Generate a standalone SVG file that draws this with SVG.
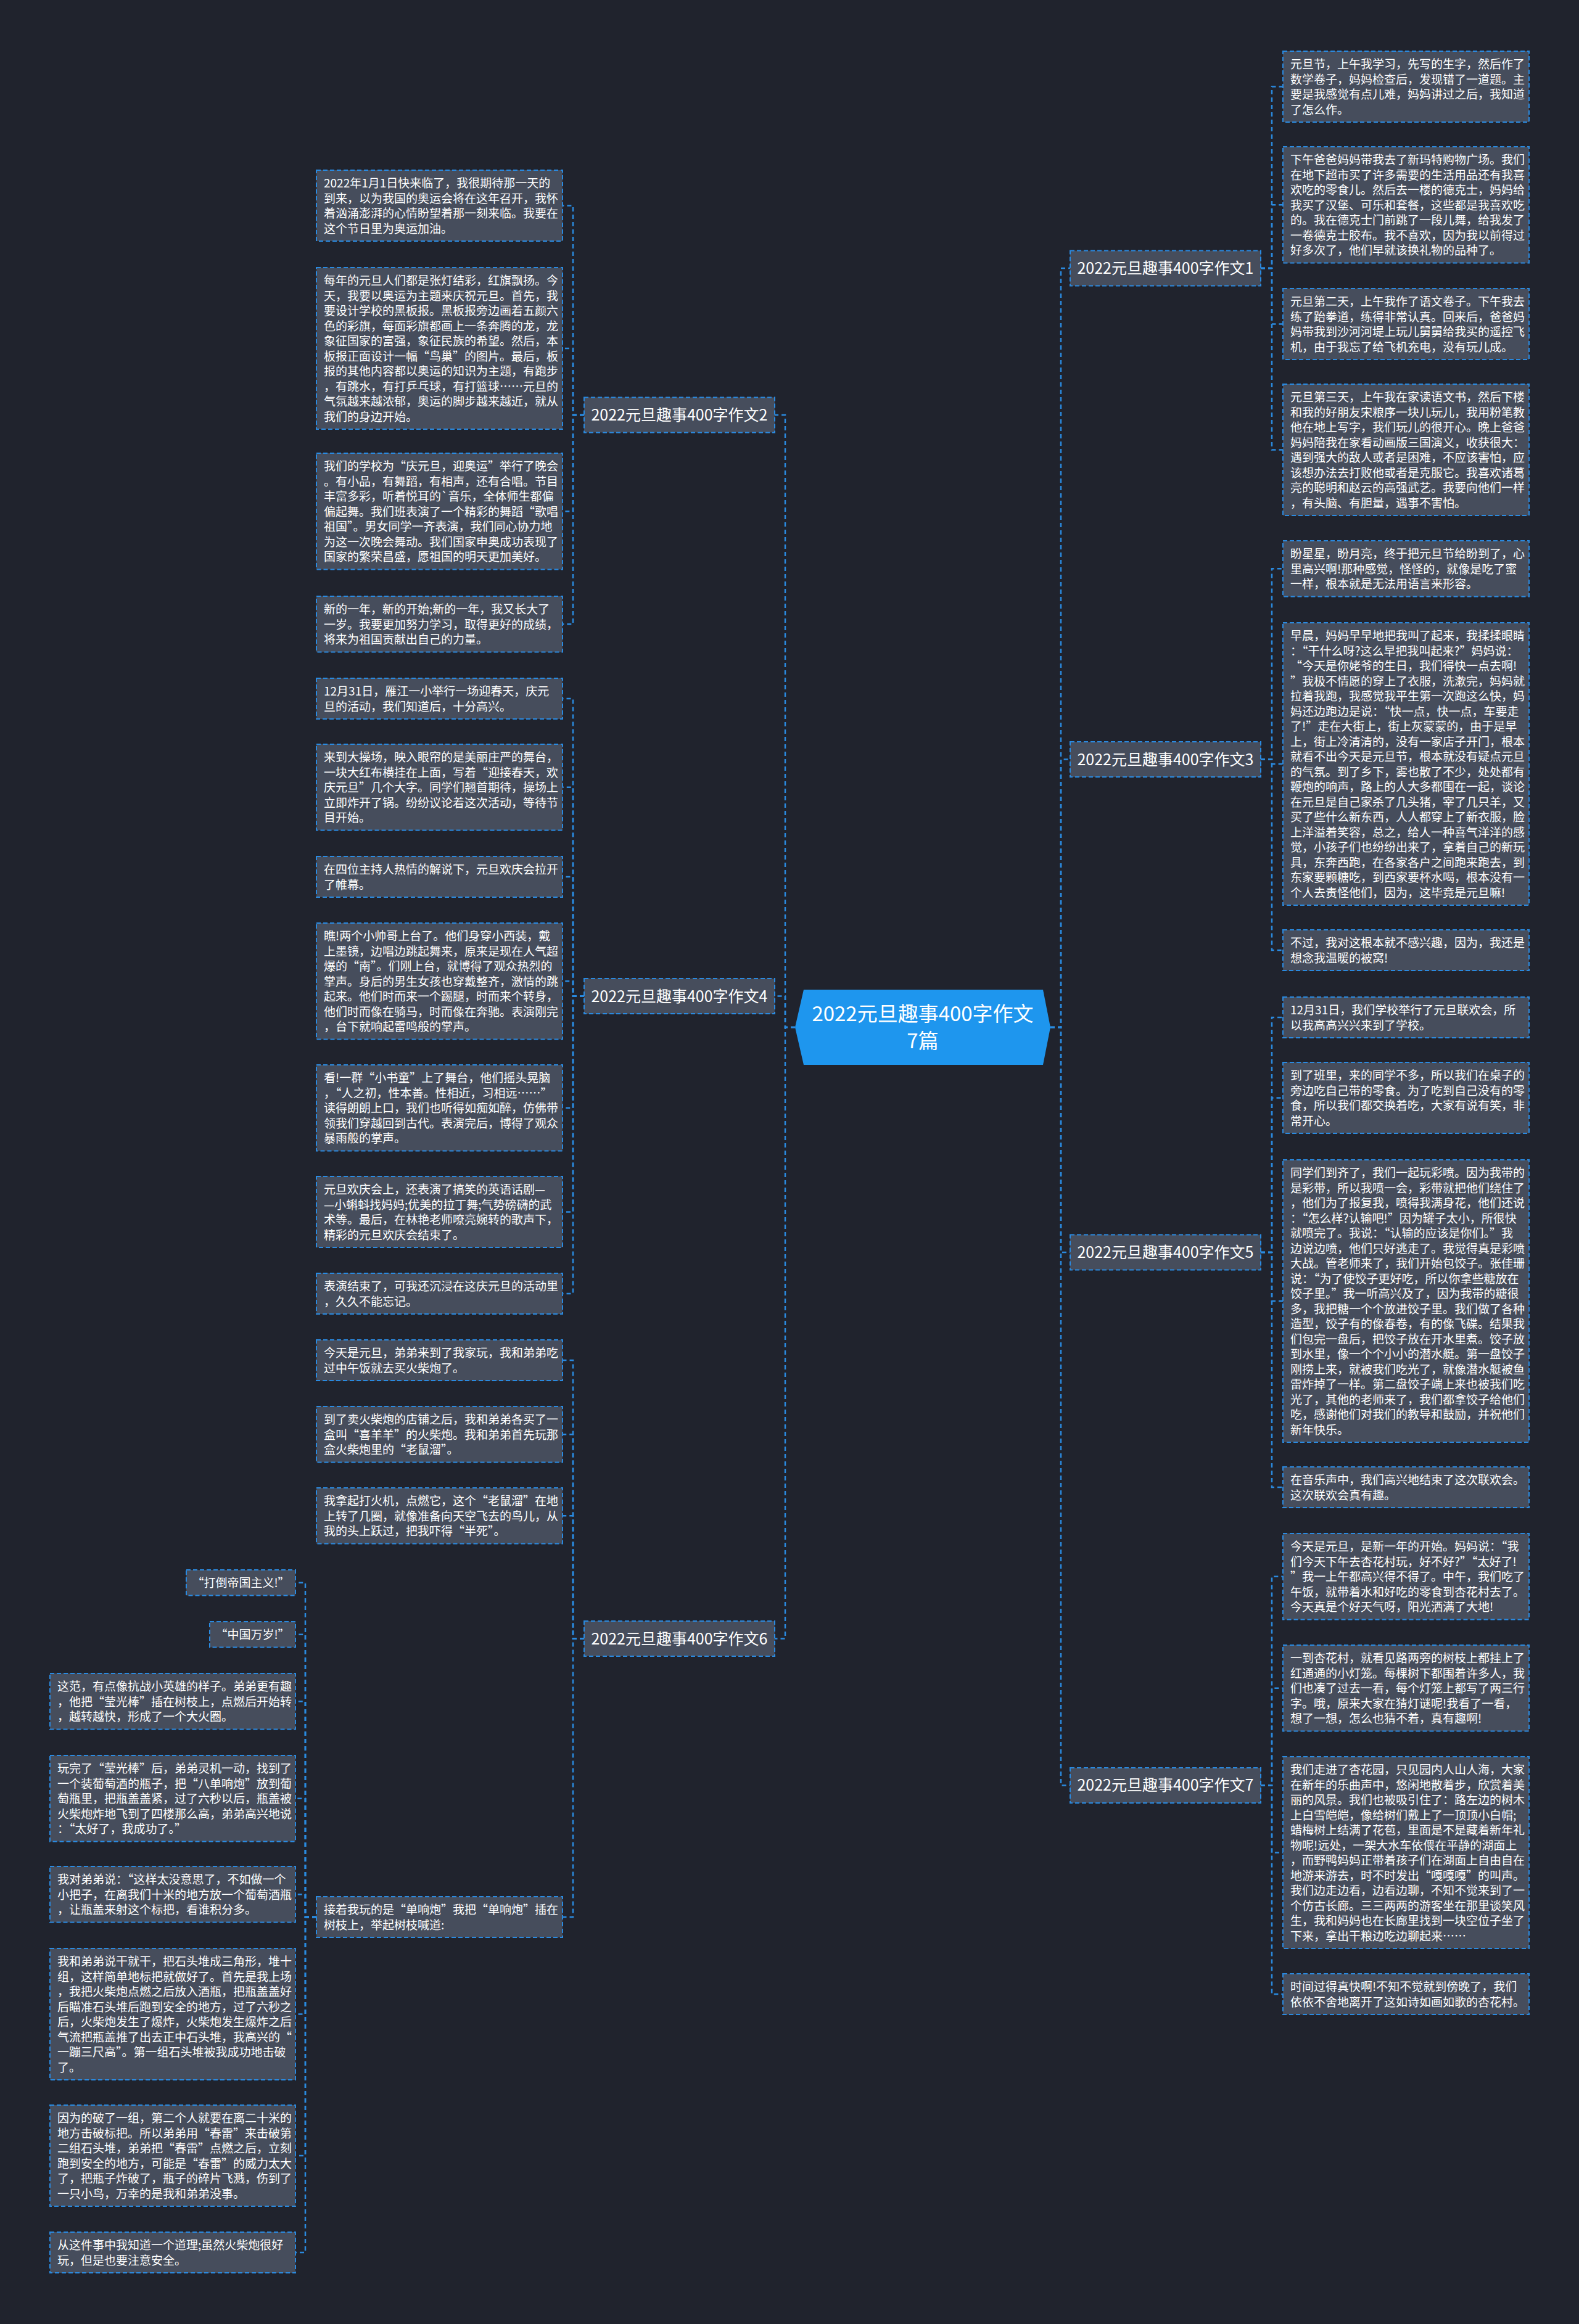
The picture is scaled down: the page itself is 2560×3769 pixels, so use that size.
<svg xmlns="http://www.w3.org/2000/svg" width="2560" height="3769" viewBox="0 0 2560 3769">
<style>
.n{fill:#464d5c;stroke:#2a8ae0;stroke-width:2;stroke-dasharray:7 4}
.t{font-family:"Noto Sans CJK SC","Noto Sans",sans-serif;font-size:19px;fill:#ffffff}
.bt{font-family:"Noto Sans CJK SC","Noto Sans",sans-serif;font-size:25px;fill:#ffffff;text-anchor:middle}
.ct{font-family:"Noto Sans CJK SC","Noto Sans",sans-serif;font-size:33px;fill:#ffffff;text-anchor:middle}
.c{fill:none;stroke:#2a8ae0;stroke-width:2.5;stroke-dasharray:7 5}
</style>
<rect x="0" y="0" width="2560" height="3769" fill="#20232d"/>
<g id="connectors">
<path class="c" d="M1289,1666 H1273 V672.9 H1256"/>
<path class="c" d="M1289,1666 H1273 V1615.5 H1256"/>
<path class="c" d="M1289,1666 H1273 V2657.5 H1256"/>
<path class="c" d="M1703,1666 H1720 V435 H1735"/>
<path class="c" d="M1703,1666 H1720 V1231.6 H1735"/>
<path class="c" d="M1703,1666 H1720 V2031 H1735"/>
<path class="c" d="M1703,1666 H1720 V2895.4 H1735"/>
<path class="c" d="M2044,435 H2062 V140.5 H2080"/>
<path class="c" d="M2044,435 H2062 V332.25 H2080"/>
<path class="c" d="M2044,435 H2062 V525.5 H2080"/>
<path class="c" d="M2044,435 H2062 V729.5 H2080"/>
<path class="c" d="M2044,1231.6 H2062 V922.25 H2080"/>
<path class="c" d="M2044,1231.6 H2062 V1239 H2080"/>
<path class="c" d="M2044,1231.6 H2062 V1541 H2080"/>
<path class="c" d="M2044,2031 H2062 V1650 H2080"/>
<path class="c" d="M2044,2031 H2062 V1780.5 H2080"/>
<path class="c" d="M2044,2031 H2062 V2110 H2080"/>
<path class="c" d="M2044,2031 H2062 V2412 H2080"/>
<path class="c" d="M2044,2895.4 H2062 V2556.75 H2080"/>
<path class="c" d="M2044,2895.4 H2062 V2737.75 H2080"/>
<path class="c" d="M2044,2895.4 H2062 V3004.5 H2080"/>
<path class="c" d="M2044,2895.4 H2062 V3234 H2080"/>
<path class="c" d="M947,672.9 H929 V333.5 H912"/>
<path class="c" d="M947,672.9 H929 V565 H912"/>
<path class="c" d="M947,672.9 H929 V829.25 H912"/>
<path class="c" d="M947,672.9 H929 V1012.25 H912"/>
<path class="c" d="M947,1615.5 H929 V1133 H912"/>
<path class="c" d="M947,1615.5 H929 V1276.75 H912"/>
<path class="c" d="M947,1615.5 H929 V1422 H912"/>
<path class="c" d="M947,1615.5 H929 V1591.25 H912"/>
<path class="c" d="M947,1615.5 H929 V1796.75 H912"/>
<path class="c" d="M947,1615.5 H929 V1965.5 H912"/>
<path class="c" d="M947,1615.5 H929 V2098 H912"/>
<path class="c" d="M947,2657.5 H929 V2206 H912"/>
<path class="c" d="M947,2657.5 H929 V2326.25 H912"/>
<path class="c" d="M947,2657.5 H929 V2458.25 H912"/>
<path class="c" d="M947,2657.5 H929 V3109 H912"/>
<path class="c" d="M513,3109 H495 V2566.75 H479"/>
<path class="c" d="M513,3109 H495 V2650.75 H479"/>
<path class="c" d="M513,3109 H495 V2759.25 H479"/>
<path class="c" d="M513,3109 H495 V2916.75 H479"/>
<path class="c" d="M513,3109 H495 V3072.25 H479"/>
<path class="c" d="M513,3109 H495 V3266.5 H479"/>
<path class="c" d="M513,3109 H495 V3496 H479"/>
<path class="c" d="M513,3109 H495 V3653 H479"/>
</g>

<g id="center">
<polygon points="1289,1666 1303,1605 1691,1605 1703,1666 1691,1727 1303,1727" fill="#1e96ee"/>
<text class="ct" x="1496" y="1656">2022元旦趣事400字作文</text>
<text class="ct" x="1496" y="1700">7篇</text>
</g>

<g id="b1"><rect class="n" x="1735" y="406.5" width="309" height="57"/><text class="bt" x="1889.5" y="444">2022元旦趣事400字作文1</text></g>
<g id="b3"><rect class="n" x="1735" y="1203.1" width="309" height="57"/><text class="bt" x="1889.5" y="1240.6">2022元旦趣事400字作文3</text></g>
<g id="b5"><rect class="n" x="1735" y="2002.5" width="309" height="57"/><text class="bt" x="1889.5" y="2040">2022元旦趣事400字作文5</text></g>
<g id="b7"><rect class="n" x="1735" y="2866.9" width="309" height="57"/><text class="bt" x="1889.5" y="2904.4">2022元旦趣事400字作文7</text></g>
<g id="b2"><rect class="n" x="947" y="644.4" width="309" height="57"/><text class="bt" x="1101.5" y="681.9">2022元旦趣事400字作文2</text></g>
<g id="b4"><rect class="n" x="947" y="1587" width="309" height="57"/><text class="bt" x="1101.5" y="1624.5">2022元旦趣事400字作文4</text></g>
<g id="b6"><rect class="n" x="947" y="2629" width="309" height="57"/><text class="bt" x="1101.5" y="2666.5">2022元旦趣事400字作文6</text></g>

<g id="r1a"><rect class="n" x="2080" y="83" width="399" height="115"/><text class="t" x="2092" y="111"><tspan x="2092">元旦节，上午我学习，先写的生字，然后作了</tspan><tspan x="2092" dy="24.5">数学卷子，妈妈检查后，发现错了一道题。主</tspan><tspan x="2092" dy="24.5">要是我感觉有点儿难，妈妈讲过之后，我知道</tspan><tspan x="2092" dy="24.5">了怎么作。</tspan></text></g>
<g id="r1b"><rect class="n" x="2080" y="238" width="399" height="188.5"/><text class="t" x="2092" y="266"><tspan x="2092">下午爸爸妈妈带我去了新玛特购物广场。我们</tspan><tspan x="2092" dy="24.5">在地下超市买了许多需要的生活用品还有我喜</tspan><tspan x="2092" dy="24.5">欢吃的零食儿。然后去一楼的德克士，妈妈给</tspan><tspan x="2092" dy="24.5">我买了汉堡、可乐和套餐，这些都是我喜欢吃</tspan><tspan x="2092" dy="24.5">的。我在德克士门前跳了一段儿舞，给我发了</tspan><tspan x="2092" dy="24.5">一卷德克士胶布。我不喜欢，因为我以前得过</tspan><tspan x="2092" dy="24.5">好多次了，他们早就该换礼物的品种了。</tspan></text></g>
<g id="r1c"><rect class="n" x="2080" y="468" width="399" height="115"/><text class="t" x="2092" y="496"><tspan x="2092">元旦第二天，上午我作了语文卷子。下午我去</tspan><tspan x="2092" dy="24.5">练了跆拳道，练得非常认真。回来后，爸爸妈</tspan><tspan x="2092" dy="24.5">妈带我到沙河河堤上玩儿舅舅给我买的遥控飞</tspan><tspan x="2092" dy="24.5">机，由于我忘了给飞机充电，没有玩儿成。</tspan></text></g>
<g id="r1d"><rect class="n" x="2080" y="623" width="399" height="213"/><text class="t" x="2092" y="651"><tspan x="2092">元旦第三天，上午我在家读语文书，然后下楼</tspan><tspan x="2092" dy="24.5">和我的好朋友宋粮序一块儿玩儿，我用粉笔教</tspan><tspan x="2092" dy="24.5">他在地上写字，我们玩儿的很开心。晚上爸爸</tspan><tspan x="2092" dy="24.5">妈妈陪我在家看动画版三国演义，收获很大：</tspan><tspan x="2092" dy="24.5">遇到强大的敌人或者是困难，不应该害怕，应</tspan><tspan x="2092" dy="24.5">该想办法去打败他或者是克服它。我喜欢诸葛</tspan><tspan x="2092" dy="24.5">亮的聪明和赵云的高强武艺。我要向他们一样</tspan><tspan x="2092" dy="24.5">，有头脑、有胆量，遇事不害怕。</tspan></text></g>

<g id="r3a"><rect class="n" x="2080" y="877" width="399" height="90.5"/><text class="t" x="2092" y="905"><tspan x="2092">盼星星，盼月亮，终于把元旦节给盼到了，心</tspan><tspan x="2092" dy="24.5">里高兴啊!那种感觉，怪怪的，就像是吃了蜜</tspan><tspan x="2092" dy="24.5">一样，根本就是无法用语言来形容。</tspan></text></g>
<g id="r3b"><rect class="n" x="2080" y="1010" width="399" height="458"/><text class="t" x="2092" y="1038"><tspan x="2092">早晨，妈妈早早地把我叫了起来，我揉揉眼睛</tspan><tspan x="2092" dy="24.5">：“干什么呀?这么早把我叫起来?”妈妈说：</tspan><tspan x="2092" dy="24.5">“今天是你姥爷的生日，我们得快一点去啊!</tspan><tspan x="2092" dy="24.5">”我极不情愿的穿上了衣服，洗漱完，妈妈就</tspan><tspan x="2092" dy="24.5">拉着我跑，我感觉我平生第一次跑这么快，妈</tspan><tspan x="2092" dy="24.5">妈还边跑边是说：“快一点，快一点，车要走</tspan><tspan x="2092" dy="24.5">了!”走在大街上，街上灰蒙蒙的，由于是早</tspan><tspan x="2092" dy="24.5">上，街上冷清清的，没有一家店子开门，根本</tspan><tspan x="2092" dy="24.5">就看不出今天是元旦节，根本就没有疑点元旦</tspan><tspan x="2092" dy="24.5">的气氛。到了乡下，雾也散了不少，处处都有</tspan><tspan x="2092" dy="24.5">鞭炮的响声，路上的人大多都围在一起，谈论</tspan><tspan x="2092" dy="24.5">在元旦是自己家杀了几头猪，宰了几只羊，又</tspan><tspan x="2092" dy="24.5">买了些什么新东西，人人都穿上了新衣服，脸</tspan><tspan x="2092" dy="24.5">上洋溢着笑容，总之，给人一种喜气洋洋的感</tspan><tspan x="2092" dy="24.5">觉，小孩子们也纷纷出来了，拿着自己的新玩</tspan><tspan x="2092" dy="24.5">具，东奔西跑，在各家各户之间跑来跑去，到</tspan><tspan x="2092" dy="24.5">东家要颗糖吃，到西家要杯水喝，根本没有一</tspan><tspan x="2092" dy="24.5">个人去责怪他们，因为，这毕竟是元旦嘛!</tspan></text></g>
<g id="r3c"><rect class="n" x="2080" y="1508" width="399" height="66"/><text class="t" x="2092" y="1536"><tspan x="2092">不过，我对这根本就不感兴趣，因为，我还是</tspan><tspan x="2092" dy="24.5">想念我温暖的被窝!</tspan></text></g>

<g id="r5a"><rect class="n" x="2080" y="1617" width="399" height="66"/><text class="t" x="2092" y="1645"><tspan x="2092">12月31日，我们学校举行了元旦联欢会，所</tspan><tspan x="2092" dy="24.5">以我高高兴兴来到了学校。</tspan></text></g>
<g id="r5b"><rect class="n" x="2080" y="1723" width="399" height="115"/><text class="t" x="2092" y="1751"><tspan x="2092">到了班里，来的同学不多，所以我们在桌子的</tspan><tspan x="2092" dy="24.5">旁边吃自己带的零食。为了吃到自己没有的零</tspan><tspan x="2092" dy="24.5">食，所以我们都交换着吃，大家有说有笑，非</tspan><tspan x="2092" dy="24.5">常开心。</tspan></text></g>
<g id="r5c"><rect class="n" x="2080" y="1881" width="399" height="458"/><text class="t" x="2092" y="1909"><tspan x="2092">同学们到齐了，我们一起玩彩喷。因为我带的</tspan><tspan x="2092" dy="24.5">是彩带，所以我喷一会，彩带就把他们绕住了</tspan><tspan x="2092" dy="24.5">，他们为了报复我，喷得我满身花，他们还说</tspan><tspan x="2092" dy="24.5">：“怎么样?认输吧!”因为罐子太小，所很快</tspan><tspan x="2092" dy="24.5">就喷完了。我说：“认输的应该是你们。”我</tspan><tspan x="2092" dy="24.5">边说边喷，他们只好逃走了。我觉得真是彩喷</tspan><tspan x="2092" dy="24.5">大战。管老师来了，我们开始包饺子。张佳珊</tspan><tspan x="2092" dy="24.5">说：“为了使饺子更好吃，所以你拿些糖放在</tspan><tspan x="2092" dy="24.5">饺子里。”我一听高兴及了，因为我带的糖很</tspan><tspan x="2092" dy="24.5">多，我把糖一个个放进饺子里。我们做了各种</tspan><tspan x="2092" dy="24.5">造型，饺子有的像春卷，有的像飞碟。结果我</tspan><tspan x="2092" dy="24.5">们包完一盘后，把饺子放在开水里煮。饺子放</tspan><tspan x="2092" dy="24.5">到水里，像一个个小小的潜水艇。第一盘饺子</tspan><tspan x="2092" dy="24.5">刚捞上来，就被我们吃光了，就像潜水艇被鱼</tspan><tspan x="2092" dy="24.5">雷炸掉了一样。第二盘饺子端上来也被我们吃</tspan><tspan x="2092" dy="24.5">光了，其他的老师来了，我们都拿饺子给他们</tspan><tspan x="2092" dy="24.5">吃，感谢他们对我们的教导和鼓励，并祝他们</tspan><tspan x="2092" dy="24.5">新年快乐。</tspan></text></g>
<g id="r5d"><rect class="n" x="2080" y="2379" width="399" height="66"/><text class="t" x="2092" y="2407"><tspan x="2092">在音乐声中，我们高兴地结束了这次联欢会。</tspan><tspan x="2092" dy="24.5">这次联欢会真有趣。</tspan></text></g>

<g id="r7a"><rect class="n" x="2080" y="2487" width="399" height="139.5"/><text class="t" x="2092" y="2515"><tspan x="2092">今天是元旦，是新一年的开始。妈妈说：“我</tspan><tspan x="2092" dy="24.5">们今天下午去杏花村玩，好不好?”“太好了!</tspan><tspan x="2092" dy="24.5">”我一上午都高兴得不得了。中午，我们吃了</tspan><tspan x="2092" dy="24.5">午饭，就带着水和好吃的零食到杏花村去了。</tspan><tspan x="2092" dy="24.5">今天真是个好天气呀，阳光洒满了大地!</tspan></text></g>
<g id="r7b"><rect class="n" x="2080" y="2668" width="399" height="139.5"/><text class="t" x="2092" y="2696"><tspan x="2092">一到杏花村，就看见路两旁的树枝上都挂上了</tspan><tspan x="2092" dy="24.5">红通通的小灯笼。每棵树下都围着许多人，我</tspan><tspan x="2092" dy="24.5">们也凑了过去一看，每个灯笼上都写了两三行</tspan><tspan x="2092" dy="24.5">字。哦，原来大家在猜灯谜呢!我看了一看，</tspan><tspan x="2092" dy="24.5">想了一想，怎么也猜不着，真有趣啊!</tspan></text></g>
<g id="r7c"><rect class="n" x="2080" y="2849" width="399" height="311"/><text class="t" x="2092" y="2877"><tspan x="2092">我们走进了杏花园，只见园内人山人海，大家</tspan><tspan x="2092" dy="24.5">在新年的乐曲声中，悠闲地散着步，欣赏着美</tspan><tspan x="2092" dy="24.5">丽的风景。我们也被吸引住了：路左边的树木</tspan><tspan x="2092" dy="24.5">上白雪皑皑，像给树们戴上了一顶顶小白帽;</tspan><tspan x="2092" dy="24.5">蜡梅树上结满了花苞，里面是不是藏着新年礼</tspan><tspan x="2092" dy="24.5">物呢!远处，一架大水车依偎在平静的湖面上</tspan><tspan x="2092" dy="24.5">，而野鸭妈妈正带着孩子们在湖面上自由自在</tspan><tspan x="2092" dy="24.5">地游来游去，时不时发出“嘎嘎嘎”的叫声。</tspan><tspan x="2092" dy="24.5">我们边走边看，边看边聊，不知不觉来到了一</tspan><tspan x="2092" dy="24.5">个仿古长廊。三三两两的游客坐在那里谈笑风</tspan><tspan x="2092" dy="24.5">生，我和妈妈也在长廊里找到一块空位子坐了</tspan><tspan x="2092" dy="24.5">下来，拿出干粮边吃边聊起来……</tspan></text></g>
<g id="r7d"><rect class="n" x="2080" y="3201" width="399" height="66"/><text class="t" x="2092" y="3229"><tspan x="2092">时间过得真快啊!不知不觉就到傍晚了，我们</tspan><tspan x="2092" dy="24.5">依依不舍地离开了这如诗如画如歌的杏花村。</tspan></text></g>

<g id="l2a"><rect class="n" x="513" y="276" width="399" height="115"/><text class="t" x="525" y="304"><tspan x="525">2022年1月1日快来临了，我很期待那一天的</tspan><tspan x="525" dy="24.5">到来，以为我国的奥运会将在这年召开，我怀</tspan><tspan x="525" dy="24.5">着汹涌澎湃的心情盼望着那一刻来临。我要在</tspan><tspan x="525" dy="24.5">这个节日里为奥运加油。</tspan></text></g>
<g id="l2b"><rect class="n" x="513" y="434" width="399" height="262"/><text class="t" x="525" y="462"><tspan x="525">每年的元旦人们都是张灯结彩，红旗飘扬。今</tspan><tspan x="525" dy="24.5">天，我要以奥运为主题来庆祝元旦。首先，我</tspan><tspan x="525" dy="24.5">要设计学校的黑板报。黑板报旁边画着五颜六</tspan><tspan x="525" dy="24.5">色的彩旗，每面彩旗都画上一条奔腾的龙，龙</tspan><tspan x="525" dy="24.5">象征国家的富强，象征民族的希望。然后，本</tspan><tspan x="525" dy="24.5">板报正面设计一幅“鸟巢”的图片。最后，板</tspan><tspan x="525" dy="24.5">报的其他内容都以奥运的知识为主题，有跑步</tspan><tspan x="525" dy="24.5">，有跳水，有打乒乓球，有打篮球……元旦的</tspan><tspan x="525" dy="24.5">气氛越来越浓郁，奥运的脚步越来越近，就从</tspan><tspan x="525" dy="24.5">我们的身边开始。</tspan></text></g>
<g id="l2c"><rect class="n" x="513" y="735" width="399" height="188.5"/><text class="t" x="525" y="763"><tspan x="525">我们的学校为“庆元旦，迎奥运”举行了晚会</tspan><tspan x="525" dy="24.5">。有小品，有舞蹈，有相声，还有合唱。节目</tspan><tspan x="525" dy="24.5">丰富多彩，听着悦耳的`音乐，全体师生都偏</tspan><tspan x="525" dy="24.5">偏起舞。我们班表演了一个精彩的舞蹈“歌唱</tspan><tspan x="525" dy="24.5">祖国”。男女同学一齐表演，我们同心协力地</tspan><tspan x="525" dy="24.5">为这一次晚会舞动。我们国家申奥成功表现了</tspan><tspan x="525" dy="24.5">国家的繁荣昌盛，愿祖国的明天更加美好。</tspan></text></g>
<g id="l2d"><rect class="n" x="513" y="967" width="399" height="90.5"/><text class="t" x="525" y="995"><tspan x="525">新的一年，新的开始;新的一年，我又长大了</tspan><tspan x="525" dy="24.5">一岁。我要更加努力学习，取得更好的成绩，</tspan><tspan x="525" dy="24.5">将来为祖国贡献出自己的力量。</tspan></text></g>

<g id="l4a"><rect class="n" x="513" y="1100" width="399" height="66"/><text class="t" x="525" y="1128"><tspan x="525">12月31日，雁江一小举行一场迎春天，庆元</tspan><tspan x="525" dy="24.5">旦的活动，我们知道后，十分高兴。</tspan></text></g>
<g id="l4b"><rect class="n" x="513" y="1207" width="399" height="139.5"/><text class="t" x="525" y="1235"><tspan x="525">来到大操场，映入眼帘的是美丽庄严的舞台，</tspan><tspan x="525" dy="24.5">一块大红布横挂在上面，写着“迎接春天，欢</tspan><tspan x="525" dy="24.5">庆元旦”几个大字。同学们翘首期待，操场上</tspan><tspan x="525" dy="24.5">立即炸开了锅。纷纷议论着这次活动，等待节</tspan><tspan x="525" dy="24.5">目开始。</tspan></text></g>
<g id="l4c"><rect class="n" x="513" y="1389" width="399" height="66"/><text class="t" x="525" y="1417"><tspan x="525">在四位主持人热情的解说下，元旦欢庆会拉开</tspan><tspan x="525" dy="24.5">了帷幕。</tspan></text></g>
<g id="l4d"><rect class="n" x="513" y="1497" width="399" height="188.5"/><text class="t" x="525" y="1525"><tspan x="525">瞧!两个小帅哥上台了。他们身穿小西装，戴</tspan><tspan x="525" dy="24.5">上墨镜，边唱边跳起舞来，原来是现在人气超</tspan><tspan x="525" dy="24.5">爆的“南”。们刚上台，就博得了观众热烈的</tspan><tspan x="525" dy="24.5">掌声。身后的男生女孩也穿戴整齐，激情的跳</tspan><tspan x="525" dy="24.5">起来。他们时而来一个踢腿，时而来个转身，</tspan><tspan x="525" dy="24.5">他们时而像在骑马，时而像在奔驰。表演刚完</tspan><tspan x="525" dy="24.5">，台下就响起雷鸣般的掌声。</tspan></text></g>
<g id="l4e"><rect class="n" x="513" y="1727" width="399" height="139.5"/><text class="t" x="525" y="1755"><tspan x="525">看!一群“小书童”上了舞台，他们摇头晃脑</tspan><tspan x="525" dy="24.5">，“人之初，性本善。性相近，习相远……”</tspan><tspan x="525" dy="24.5">读得朗朗上口，我们也听得如痴如醉，仿佛带</tspan><tspan x="525" dy="24.5">领我们穿越回到古代。表演完后，博得了观众</tspan><tspan x="525" dy="24.5">暴雨般的掌声。</tspan></text></g>
<g id="l4f"><rect class="n" x="513" y="1908" width="399" height="115"/><text class="t" x="525" y="1936"><tspan x="525">元旦欢庆会上，还表演了搞笑的英语话剧—</tspan><tspan x="525" dy="24.5">—小蝌蚪找妈妈;优美的拉丁舞;气势磅礴的武</tspan><tspan x="525" dy="24.5">术等。最后，在林艳老师嘹亮婉转的歌声下，</tspan><tspan x="525" dy="24.5">精彩的元旦欢庆会结束了。</tspan></text></g>
<g id="l4g"><rect class="n" x="513" y="2065" width="399" height="66"/><text class="t" x="525" y="2093"><tspan x="525">表演结束了，可我还沉浸在这庆元旦的活动里</tspan><tspan x="525" dy="24.5">，久久不能忘记。</tspan></text></g>

<g id="l6a"><rect class="n" x="513" y="2173" width="399" height="66"/><text class="t" x="525" y="2201"><tspan x="525">今天是元旦，弟弟来到了我家玩，我和弟弟吃</tspan><tspan x="525" dy="24.5">过中午饭就去买火柴炮了。</tspan></text></g>
<g id="l6b"><rect class="n" x="513" y="2281" width="399" height="90.5"/><text class="t" x="525" y="2309"><tspan x="525">到了卖火柴炮的店铺之后，我和弟弟各买了一</tspan><tspan x="525" dy="24.5">盒叫“喜羊羊”的火柴炮。我和弟弟首先玩那</tspan><tspan x="525" dy="24.5">盒火柴炮里的“老鼠溜”。</tspan></text></g>
<g id="l6c"><rect class="n" x="513" y="2413" width="399" height="90.5"/><text class="t" x="525" y="2441"><tspan x="525">我拿起打火机，点燃它，这个“老鼠溜”在地</tspan><tspan x="525" dy="24.5">上转了几圈，就像准备向天空飞去的鸟儿，从</tspan><tspan x="525" dy="24.5">我的头上跃过，把我吓得“半死”。</tspan></text></g>
<g id="l6d"><rect class="n" x="513" y="3076" width="399" height="66"/><text class="t" x="525" y="3104"><tspan x="525">接着我玩的是“单响炮”我把“单响炮”插在</tspan><tspan x="525" dy="24.5">树枝上，举起树枝喊道:</tspan></text></g>

<g id="f1"><rect class="n" x="302" y="2546" width="177" height="41.5"/><text class="t" x="390.5" y="2574" text-anchor="middle">“打倒帝国主义!”</text></g>
<g id="f2"><rect class="n" x="340" y="2630" width="139" height="41.5"/><text class="t" x="409.5" y="2658" text-anchor="middle">“中国万岁!”</text></g>
<g id="f3"><rect class="n" x="81" y="2714" width="398" height="90.5"/><text class="t" x="93" y="2742"><tspan x="93">这范，有点像抗战小英雄的样子。弟弟更有趣</tspan><tspan x="93" dy="24.5">，他把“莹光棒”插在树枝上，点燃后开始转</tspan><tspan x="93" dy="24.5">，越转越快，形成了一个大火圈。</tspan></text></g>
<g id="f4"><rect class="n" x="81" y="2847" width="398" height="139.5"/><text class="t" x="93" y="2875"><tspan x="93">玩完了“莹光棒”后，弟弟灵机一动，找到了</tspan><tspan x="93" dy="24.5">一个装葡萄酒的瓶子，把“八单响炮”放到葡</tspan><tspan x="93" dy="24.5">萄瓶里，把瓶盖盖紧，过了六秒以后，瓶盖被</tspan><tspan x="93" dy="24.5">火柴炮炸地飞到了四楼那么高，弟弟高兴地说</tspan><tspan x="93" dy="24.5">：“太好了，我成功了。”</tspan></text></g>
<g id="f5"><rect class="n" x="81" y="3027" width="398" height="90.5"/><text class="t" x="93" y="3055"><tspan x="93">我对弟弟说：“这样太没意思了，不如做一个</tspan><tspan x="93" dy="24.5">小把子，在离我们十米的地方放一个葡萄酒瓶</tspan><tspan x="93" dy="24.5">，让瓶盖来射这个标把，看谁积分多。</tspan></text></g>
<g id="f6"><rect class="n" x="81" y="3160" width="398" height="213"/><text class="t" x="93" y="3188"><tspan x="93">我和弟弟说干就干，把石头堆成三角形，堆十</tspan><tspan x="93" dy="24.5">组，这样简单地标把就做好了。首先是我上场</tspan><tspan x="93" dy="24.5">，我把火柴炮点燃之后放入酒瓶，把瓶盖盖好</tspan><tspan x="93" dy="24.5">后瞄准石头堆后跑到安全的地方，过了六秒之</tspan><tspan x="93" dy="24.5">后，火柴炮发生了爆炸，火柴炮发生爆炸之后</tspan><tspan x="93" dy="24.5">气流把瓶盖推了出去正中石头堆，我高兴的“</tspan><tspan x="93" dy="24.5">一蹦三尺高”。第一组石头堆被我成功地击破</tspan><tspan x="93" dy="24.5">了。</tspan></text></g>
<g id="f7"><rect class="n" x="81" y="3414" width="398" height="164"/><text class="t" x="93" y="3442"><tspan x="93">因为的破了一组，第二个人就要在离二十米的</tspan><tspan x="93" dy="24.5">地方击破标把。所以弟弟用“春雷”来击破第</tspan><tspan x="93" dy="24.5">二组石头堆，弟弟把“春雷”点燃之后，立刻</tspan><tspan x="93" dy="24.5">跑到安全的地方，可能是“春雷”的威力太大</tspan><tspan x="93" dy="24.5">了，把瓶子炸破了，瓶子的碎片飞溅，伤到了</tspan><tspan x="93" dy="24.5">一只小鸟，万幸的是我和弟弟没事。</tspan></text></g>
<g id="f8"><rect class="n" x="81" y="3620" width="398" height="66"/><text class="t" x="93" y="3648"><tspan x="93">从这件事中我知道一个道理;虽然火柴炮很好</tspan><tspan x="93" dy="24.5">玩，但是也要注意安全。</tspan></text></g>
</svg>
